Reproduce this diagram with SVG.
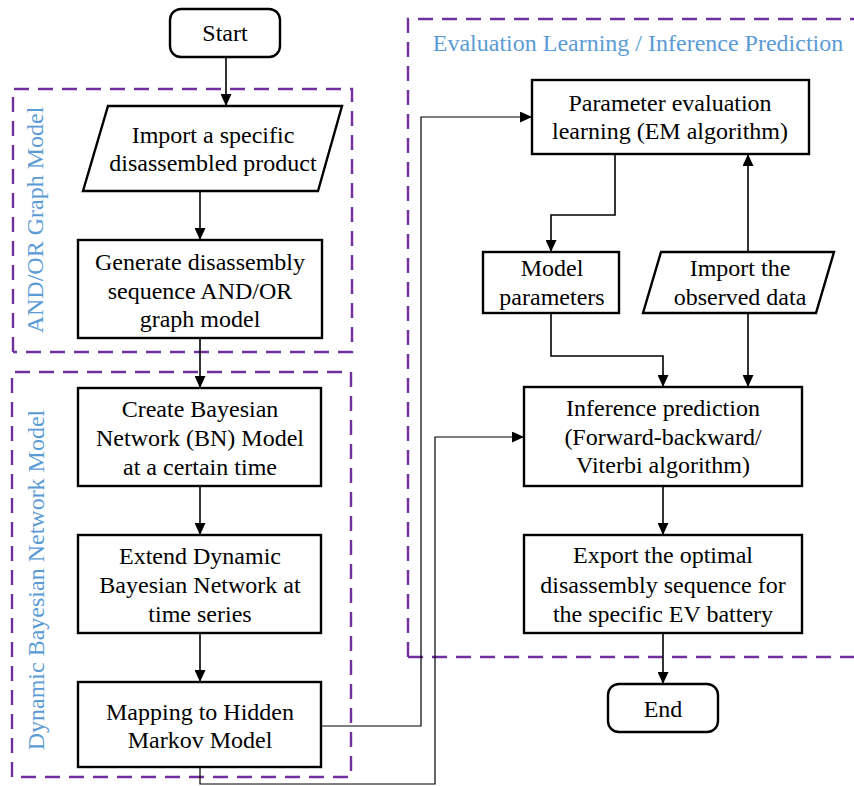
<svg xmlns="http://www.w3.org/2000/svg" width="854" height="786" viewBox="0 0 854 786">
  <defs>
    <marker id="arrow" viewBox="0 0 12 11" refX="12" refY="5.5" markerWidth="12" markerHeight="11" markerUnits="userSpaceOnUse" orient="auto">
      <path d="M0,0 L12,5.5 L0,11 z" fill="#000"/>
    </marker>
    <style>
      .box { fill: #fff; stroke: #000; stroke-width: 2.4; }
      .group { fill: none; stroke: #7030a0; stroke-width: 2.4; stroke-dasharray: 15 9; }
      .txt { font-family: "Liberation Serif", "Times New Roman", serif; font-size: 24px; fill: #000; text-anchor: middle; }
      .lbl { font-family: "Liberation Serif", "Times New Roman", serif; font-size: 24px; fill: #5b9bd5; text-anchor: middle; }
      .edge { fill: none; stroke: #000; stroke-width: 1.6; }
      .thin { fill: none; stroke: #000; stroke-width: 1.2; }
    </style>
  </defs>

  <rect width="854" height="786" fill="#fff"/>

  <!-- grouping frames -->
  <g id="frames">
    <path class="group" d="M13,352 L13,89 L352,89 L352,352 L13,352"/>
    <path class="group" d="M12,777 L12,372 L351,372 L351,777 L12,777"/>
    <path class="group" d="M408,657 L408,19 L860,19 M408,657 L860,657"/>
    <text class="lbl" transform="translate(43,220) rotate(-90)">AND/OR Graph Model</text>
    <text class="lbl" transform="translate(44,580) rotate(-90)">Dynamic Bayesian Network Model</text>
    <text class="lbl" x="638" y="51">Evaluation Learning / Inference Prediction</text>
  </g>

  <!-- connectors -->
  <g id="connectors">
    <path class="edge" d="M226,57 L226,106" marker-end="url(#arrow)"/>
    <path class="edge" d="M200,191 L200,240" marker-end="url(#arrow)"/>
    <path class="edge" d="M200,338 L200,388" marker-end="url(#arrow)"/>
    <path class="edge" d="M200,486 L200,535" marker-end="url(#arrow)"/>
    <path class="edge" d="M200,633 L200,682" marker-end="url(#arrow)"/>
    <path class="thin" d="M321,726 L421,726 L421,117 L532,117" marker-end="url(#arrow)"/>
    <path class="thin" d="M200,767 L200,784 L435,784 L435,437 L524,437" marker-end="url(#arrow)"/>
    <path class="edge" d="M615,154 L615,215 L551,215 L551,252" marker-end="url(#arrow)"/>
    <path class="edge" d="M748,252 L748,154" marker-end="url(#arrow)"/>
    <path class="edge" d="M551,313 L551,356 L663,356 L663,387" marker-end="url(#arrow)"/>
    <path class="edge" d="M748,313 L748,387" marker-end="url(#arrow)"/>
    <path class="edge" d="M663,486 L663,535" marker-end="url(#arrow)"/>
    <path class="edge" d="M663,633 L663,684" marker-end="url(#arrow)"/>
  </g>

  <g id="start">
    <rect class="box" x="170" y="9" width="110" height="48" rx="11"/>
    <text class="txt" x="225" y="41">Start</text>
  </g>

  <g id="import-product">
    <polygon class="box" points="108,106 342,106 318,191 83,191"/>
    <text class="txt" x="213" y="143">Import a specific</text>
    <text class="txt" x="213" y="171">disassembled product</text>
  </g>

  <g id="and-or-graph">
    <rect class="box" x="78" y="240" width="244" height="98"/>
    <text class="txt" x="200" y="270">Generate disassembly</text>
    <text class="txt" x="200" y="299">sequence AND/OR</text>
    <text class="txt" x="200" y="327">graph model</text>
  </g>

  <g id="create-bn">
    <rect class="box" x="78" y="388" width="243" height="98"/>
    <text class="txt" x="200" y="417">Create Bayesian</text>
    <text class="txt" x="200" y="446">Network (BN) Model</text>
    <text class="txt" x="200" y="475">at a certain time</text>
  </g>

  <g id="extend-dbn">
    <rect class="box" x="78" y="535" width="243" height="98"/>
    <text class="txt" x="200" y="564">Extend Dynamic</text>
    <text class="txt" x="200" y="593">Bayesian Network at</text>
    <text class="txt" x="200" y="622">time series</text>
  </g>

  <g id="map-hmm">
    <rect class="box" x="78" y="682" width="243" height="85"/>
    <text class="txt" x="200" y="720">Mapping to Hidden</text>
    <text class="txt" x="200" y="748">Markov Model</text>
  </g>

  <g id="param-learning">
    <rect class="box" x="532" y="80" width="277" height="74"/>
    <text class="txt" x="670" y="111">Parameter evaluation</text>
    <text class="txt" x="670" y="139">learning (EM algorithm)</text>
  </g>

  <g id="model-params">
    <rect class="box" x="483" y="252" width="136" height="61"/>
    <text class="txt" x="552" y="276">Model</text>
    <text class="txt" x="552" y="305">parameters</text>
  </g>

  <g id="observed-data">
    <polygon class="box" points="661,252 834,252 816,313 643,313"/>
    <text class="txt" x="740" y="276">Import the</text>
    <text class="txt" x="740" y="305">observed data</text>
  </g>

  <g id="inference">
    <rect class="box" x="524" y="387" width="278" height="99"/>
    <text class="txt" x="663" y="416">Inference prediction</text>
    <text class="txt" x="663" y="445">(Forward-backward/</text>
    <text class="txt" x="663" y="473">Viterbi algorithm)</text>
  </g>

  <g id="export">
    <rect class="box" x="524" y="535" width="278" height="98"/>
    <text class="txt" x="663" y="563">Export the optimal</text>
    <text class="txt" x="663" y="593">disassembly sequence for</text>
    <text class="txt" x="663" y="622">the specific EV battery</text>
  </g>

  <g id="end">
    <rect class="box" x="608" y="684" width="110" height="48" rx="11"/>
    <text class="txt" x="663" y="717">End</text>
  </g>
</svg>
